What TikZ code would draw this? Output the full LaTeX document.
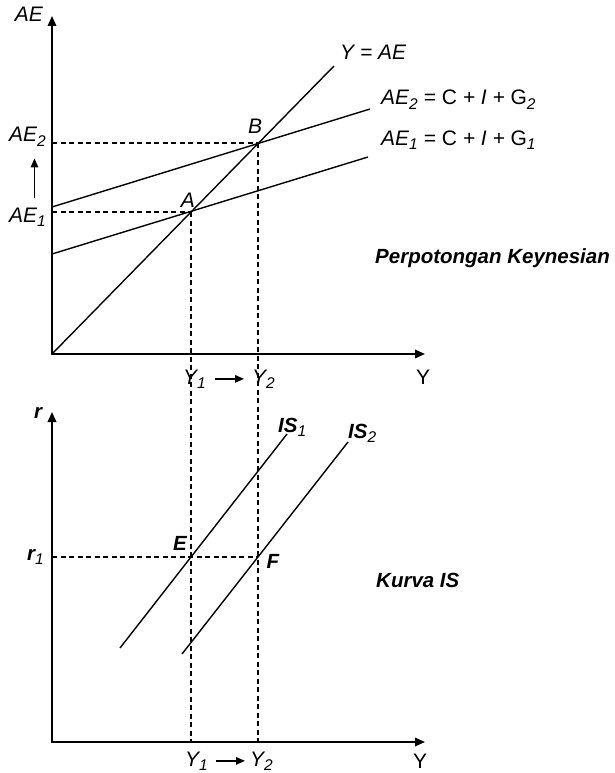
\documentclass[tikz,border=0pt]{standalone}
\usepackage{fontspec}
\setmainfont{Liberation Sans}
\usetikzlibrary{arrows.meta}
\newcommand{\sbs}[1]{\raisebox{-0.2em}{\normalfont\itshape\fontsize{15.5}{17}\selectfont #1}}

\begin{document}
\begin{tikzpicture}[
    x=1pt, y=-1pt,
    font=\fontsize{21}{25}\selectfont,
    axis/.style={{Triangle[length=10pt,width=8.5pt]}-{Triangle[length=10pt,width=8.5pt]}, line width=1.8pt},
    curve/.style={line width=1.4pt},
    guide/.style={dash pattern=on 5pt off 3.5pt, line width=1.2pt},
    shiftarrow/.style={-{Triangle[length=9pt,width=7.5pt]}, line width=1.4pt},
    lbl/.style={inner sep=0pt, font=\fontsize{21}{25}\selectfont\itshape},
    blbl/.style={inner sep=0pt, font=\fontsize{20.5}{24}\selectfont\bfseries\itshape}
]
\useasboundingbox (0,0) rectangle (614,773);

% Keynesian cross
\coordinate (O1) at (52,354);
\coordinate (topA) at (52,16);
\coordinate (rightA) at (425,354);
\coordinate (A) at (191,212);
\coordinate (B) at (258,143);
\coordinate (yaeEnd) at (334,66);
\coordinate (ae2Start) at (52,207);
\coordinate (ae2End) at (370,109);
\coordinate (ae1Start) at (52,254);
\coordinate (ae1End) at (368,157);

% IS curve
\coordinate (O2) at (52,742);
\coordinate (topB) at (52,412);
\coordinate (rightB) at (425,742);
\coordinate (E) at (191,557);
\coordinate (F) at (258,557);
\coordinate (is1Start) at (120,648);
\coordinate (is1End) at (287,434);
\coordinate (is2Start) at (182,654);
\coordinate (is2End) at (348,442);

% guides
\draw[guide] (A -| O1) -- (A);
\draw[guide] (B -| O1) -- (B);
\draw[guide] (A) -- (A |- O2);
\draw[guide] (B) -- (B |- O2);
\draw[guide] (F -| O2) -- (F);

% curves
\draw[curve] (O1) -- (yaeEnd);
\draw[curve] (ae2Start) -- (ae2End);
\draw[curve] (ae1Start) -- (ae1End);
\draw[curve] (is1Start) -- (is1End);
\draw[curve] (is2Start) -- (is2End);

% axes
\draw[axis] (topA) -- (O1) -- (rightA);
\draw[axis] (topB) -- (O2) -- (rightB);

% labels, top
\node[lbl, anchor=base east] (aeTop) at (43,22) {AE};
\node[lbl, anchor=base east] (ae2L) at (46,142) {AE\sbs{2}};
\node[lbl, anchor=base east] (ae1L) at (46,222) {AE\sbs{1}};
\node[lbl, anchor=base west] (yae) at (340,60) {Y = AE};
\node[lbl, anchor=base west] (ae2Eq) at (381,105) {AE\sbs{2} = \textup{C} + I + \textup{G}\sbs{2}};
\node[lbl, anchor=base west] (ae1Eq) at (381,145) {AE\sbs{1} = \textup{C} + I + \textup{G}\sbs{1}};
\node[lbl, anchor=base] (labA) at (188,207) {A};
\node[lbl, anchor=base] (labB) at (255,133) {B};
\node[blbl, anchor=base west] (cross) at (375,263) {Perpotongan Keynesian};
\node[lbl, anchor=base west] (y1a) at (183,384) {Y\sbs{1}};
\node[lbl, anchor=base west] (y2a) at (252,384) {Y\sbs{2}};
\node[inner sep=0pt, anchor=base west] (yA) at (416,384) {Y};

% labels, bottom
\node[blbl, anchor=base] (rL) at (38,418) {r};
\node[blbl, anchor=base east] (r1L) at (44,560) {r\sbs{1}};
\node[blbl, anchor=base west] (is1L) at (278,432) {IS\sbs{1}};
\node[blbl, anchor=base west] (is2L) at (348,438) {IS\sbs{2}};
\node[blbl, anchor=base] (labE) at (180,550) {E};
\node[blbl, anchor=base] (labF) at (273,568) {F};
\node[blbl, anchor=base west] (kurva) at (376,587) {Kurva IS};
\node[lbl, anchor=base west] (y1b) at (185,766) {Y\sbs{1}};
\node[lbl, anchor=base west] (y2b) at (250,766) {Y\sbs{2}};
\node[inner sep=0pt, anchor=base west] (yB) at (413,768) {Y};

% shifts
\draw[shiftarrow, shorten <=9pt, shorten >=12pt] ([xshift=7pt]ae1L.north) -- ([xshift=7pt]ae1L.north |- ae2L.south);
\draw[shiftarrow, shorten <=9pt, shorten >=8pt] (y1a.east) -- (y2a.west |- y1a.east);
\draw[shiftarrow, shorten <=8pt, shorten >=5pt] (y1b.east) -- (y2b.west |- y1b.east);
\end{tikzpicture}
\end{document}
